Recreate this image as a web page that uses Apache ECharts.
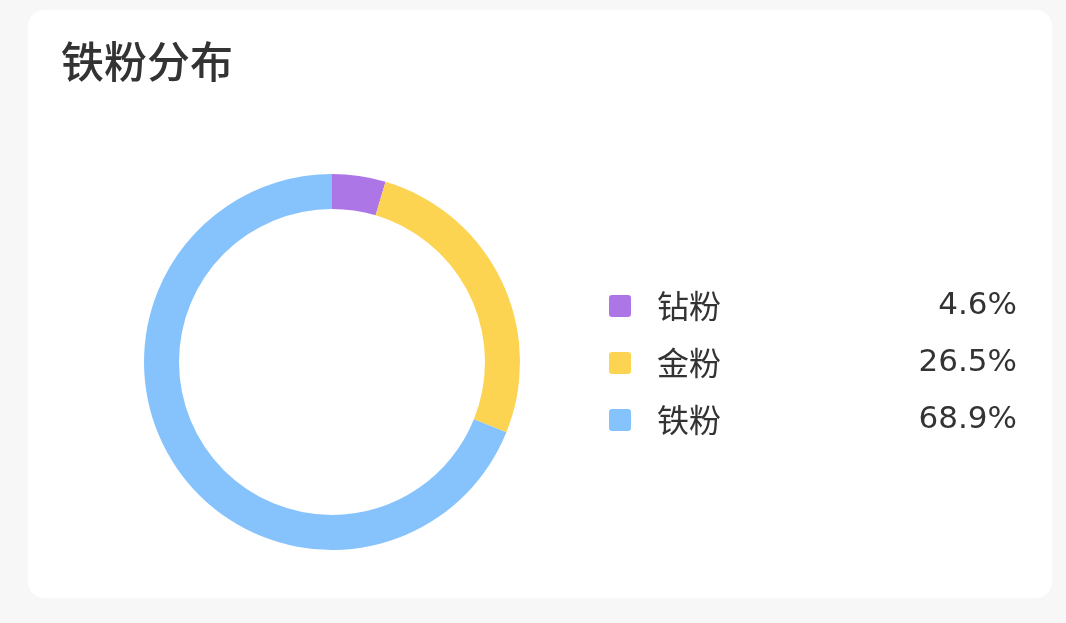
<!DOCTYPE html>
<html>
<head>
<meta charset="utf-8">
<script src="https://cdn.jsdelivr.net/npm/echarts@6/dist/echarts.min.js"></script>
<style>
html,body{margin:0;padding:0;background:#f7f7f7;}
#c{width:1066px;height:623px;}
</style>
</head>
<body>
<div id="c"></div>
<script>
const categories = ['钻粉', '金粉', '铁粉'];
const values = [4.6, 26.5, 68.9];
const colors = ['#ad76e7', '#fdd352', '#86c3fd'];

const chart = echarts.init(document.getElementById('c'));
const font = '"Noto Sans CJK SC", "Noto Sans", sans-serif';
const numFont = '"DejaVu Sans", "Liberation Sans", sans-serif';
chart.setOption({
  backgroundColor: '#f7f7f7',
  color: colors,
  graphic: [{
    type: 'rect', left: 28, top: 10, z: -10,
    shape: { width: 1024, height: 588, r: 16 },
    style: { fill: '#ffffff' }
  }],
  title: {
    text: '铁粉分布', left: 56, top: 35,
    textStyle: { fontFamily: font, fontSize: 43, fontWeight: 500, color: '#333333' }
  },
  legend: {
    orient: 'vertical', left: 604, top: 285,
    itemWidth: 22, itemHeight: 22, itemGap: 25,
    icon: 'path://M3,0 H19 A3,3 0 0 1 22,3 V19 A3,3 0 0 1 19,22 H3 A3,3 0 0 1 0,19 V3 A3,3 0 0 1 3,0 Z',
    data: categories,
    formatter: function (name) {
      const i = categories.indexOf(name);
      return '{n|' + name + '}{v|' + values[i].toFixed(1) + '%}';
    },
    textStyle: {
      fontFamily: font,
      rich: {
        n: { fontFamily: font, fontSize: 32, color: '#333333', lineHeight: 34, width: 80, padding: [0, 0, 0, 21] },
        v: { fontFamily: numFont, fontSize: 31, color: '#333333', lineHeight: 34, width: 280, align: 'right' }
      }
    }
  },
  series: [{
    type: 'pie',
    center: [332, 362],
    radius: [153, 188],
    startAngle: 90,
    clockwise: true,
    label: { show: false },
    labelLine: { show: false },
    silent: true,
    data: categories.map((c, i) => ({ name: c, value: values[i] }))
  }]
});
</script>
</body>
</html>
